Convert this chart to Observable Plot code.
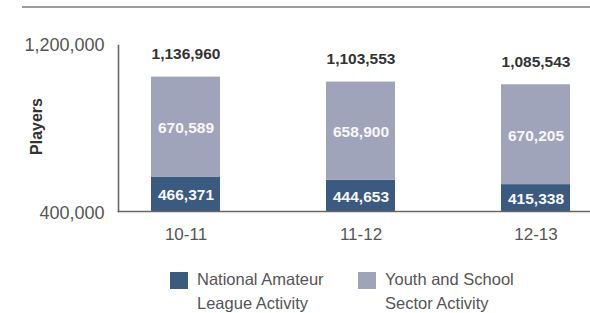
<!DOCTYPE html>
<html>
<head>
<meta charset="utf-8">
<script src="https://cdn.jsdelivr.net/npm/d3@7"></script>
<script src="https://cdn.jsdelivr.net/npm/@observablehq/plot@0.6"></script>
<style>
  html, body { margin: 0; padding: 0; background: #fff; }
  body { width: 590px; height: 313px; overflow: hidden; font-family: "Liberation Sans", Arial, Helvetica, sans-serif; }
  #wrap { position: relative; width: 590px; height: 313px; }
  #toprule { position: absolute; top: 6px; left: 22px; right: 0; border-top: 2px solid #9c9c9c; }
  #chart svg { display: block; }
  #legend { position: absolute; top: 267px; left: 170px; display: flex; font-size: 16.5px; line-height: 24px; color: #555; }
  .item { display: flex; align-items: flex-start; width: 188px; }
  .sw { width: 18px; height: 17px; margin-top: 5px; margin-right: 9px; flex: none; }
</style>
</head>
<body>
<div id="wrap">
  <div id="toprule"></div>
  <div id="chart"></div>
  <div id="legend"></div>
</div>
<script>
// ---- data ----
const seasons = ["10-11", "11-12", "12-13"];
const seriesNames = ["National Amateur League Activity", "Youth and School Sector Activity"];
const amateur = [466371, 444653, 415338];
const youth = [670589, 658900, 670205];
const totals = [1136960, 1103553, 1085543];
const yTickLabels = ["1,200,000", "400,000"];
const yTitle = "Players";
const colors = ["#3b5a7f", "#a0a4bb"];
const legendLines = [["National Amateur", "League Activity"], ["Youth and School", "Sector Activity"]];

// ---- derived tables ----
const yMin = 235000, yMax = 1349000; // visual axis extent (axis labels are drawn at its ends)
const fmt = d3.format(",");
const rows = seasons.flatMap((s, i) => [
  {season: s, series: seriesNames[0], y1: yMin, y2: amateur[i], value: amateur[i]},
  {season: s, series: seriesNames[1], y1: amateur[i], y2: amateur[i] + youth[i], value: youth[i]}
]);
const totalRows = seasons.map((s, i) => ({season: s, total: totals[i]}));

const font = "Liberation Sans, Arial, Helvetica, sans-serif";

const chart = Plot.plot({
  width: 590,
  height: 250,
  marginTop: 45,
  marginBottom: 39,
  marginLeft: 118,
  marginRight: 0,
  style: {fontFamily: font, background: "transparent"},
  x: {domain: seasons, paddingInner: 0.608, paddingOuter: 0.145, align: 0.627, label: null},
  y: {domain: [yMin, yMax], axis: null},
  color: {domain: seriesNames, range: colors},
  marks: [
    Plot.barY(rows, {x: "season", y1: "y1", y2: "y2", fill: "series"}),
    Plot.text(rows, {x: "season", y: d => (d.y1 + d.y2) / 2, text: d => fmt(d.value), fill: "#f7f7f7", fontWeight: "bold", fontSize: 15.5, dy: 1}),
    Plot.text(totalRows, {x: "season", y: "total", text: d => fmt(d.total), fill: "#333", fontWeight: "bold", fontSize: 15.5, dy: -23}),
    Plot.frame({anchor: "left", stroke: "#666", strokeWidth: 1.6}),
    Plot.frame({anchor: "bottom", stroke: "#666", strokeWidth: 1.6}),
    Plot.axisX({tickSize: 0, tickPadding: 16, fontSize: 17, fill: "#555", label: null}),
    Plot.text([yTickLabels[0]], {frameAnchor: "top-left", textAnchor: "end", lineAnchor: "middle", dx: -14, dy: 0, fontSize: 18, fill: "#555"}),
    Plot.text([yTickLabels[1]], {frameAnchor: "bottom-left", textAnchor: "end", lineAnchor: "middle", dx: -14, dy: 2, fontSize: 18, fill: "#555"}),
    Plot.text([yTitle], {frameAnchor: "left", textAnchor: "middle", lineAnchor: "middle", rotate: -90, dx: -82, dy: -2, fontSize: 16, fontWeight: "bold", fill: "#333"})
  ]
});
document.getElementById("chart").appendChild(chart);

// legend
const legend = document.getElementById("legend");
seriesNames.forEach((name, i) => {
  const item = document.createElement("div");
  item.className = "item";
  const sw = document.createElement("div");
  sw.className = "sw";
  sw.style.background = colors[i];
  const label = document.createElement("div");
  label.innerHTML = legendLines[i].join("<br>");
  item.appendChild(sw);
  item.appendChild(label);
  legend.appendChild(item);
});
</script>
</body>
</html>
